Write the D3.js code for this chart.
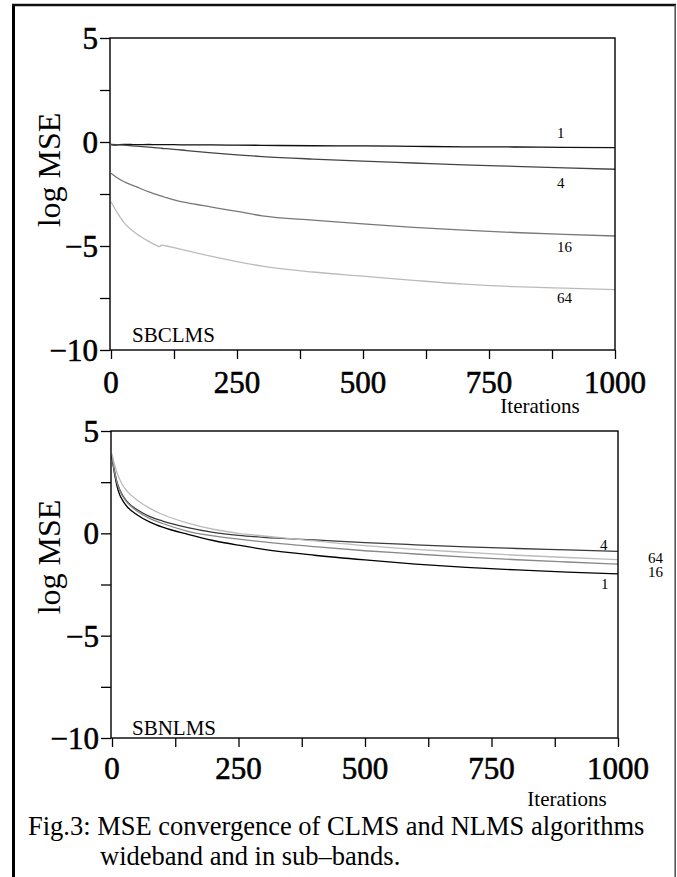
<!DOCTYPE html>
<html><head><meta charset="utf-8">
<script src="https://cdn.jsdelivr.net/npm/d3@7"></script>
<style>
body{margin:0;background:#fff}
svg{display:block}
svg text{font-family:"Liberation Serif","Times New Roman",Times,serif !important;}
</style>
</head><body><svg id="c" width="677" height="877"></svg>
<script>
// ---- data ----
const iterTicks = [0,125,250,375,500,625,750,875,1000];
const iterLabels = [0,250,500,750,1000];
const mseTicks = [5,2.5,0,-2.5,-5,-7.5,-10];
const mseLabels = [5,0,-5,-10];

const clmsIter = [0,10,25,50,75,90,97,100,110,125,150,200,250,300,400,500,600,700,800,900,1000];
const clms1  = [-0.12,-0.15,-0.11,-0.13,-0.12,-0.13,-0.13,-0.13,-0.13,-0.13,-0.14,-0.14,-0.15,-0.16,-0.18,-0.19,-0.21,-0.23,-0.24,-0.26,-0.27];
const clms4  = [-0.12,-0.13,-0.15,-0.2,-0.25,-0.28,-0.29,-0.3,-0.32,-0.35,-0.41,-0.52,-0.62,-0.7,-0.82,-0.92,-1.01,-1.1,-1.17,-1.24,-1.31];
const clms16 = [-1.5,-1.68,-1.9,-2.15,-2.4,-2.52,-2.58,-2.6,-2.68,-2.78,-2.92,-3.13,-3.34,-3.55,-3.76,-3.94,-4.1,-4.24,-4.35,-4.44,-4.52];
const clms64 = [-2.87,-3.3,-3.85,-4.4,-4.78,-4.97,-5.03,-4.96,-5.0,-5.08,-5.22,-5.5,-5.75,-5.97,-6.25,-6.45,-6.65,-6.83,-6.95,-7.03,-7.1];

const nlmsIter = [0,5,10,15,20,30,50,75,100,150,200,250,300,400,500,600,700,800,900,1000];
const nlms1  = [3.75,2.9,2.3,1.9,1.65,1.3,0.9,0.55,0.3,-0.05,-0.35,-0.58,-0.78,-1.07,-1.3,-1.5,-1.66,-1.79,-1.9,-1.98];
const nlms4  = [3.8,3.05,2.5,2.15,1.9,1.55,1.15,0.82,0.6,0.28,0.05,-0.1,-0.2,-0.32,-0.45,-0.56,-0.66,-0.74,-0.81,-0.88];
const nlms16 = [3.8,3.0,2.45,2.1,1.85,1.5,1.08,0.72,0.48,0.1,-0.12,-0.28,-0.42,-0.65,-0.85,-1.01,-1.16,-1.29,-1.4,-1.5];
const nlms64 = [3.9,3.35,2.95,2.65,2.4,2.05,1.62,1.22,0.92,0.5,0.2,0.0,-0.13,-0.37,-0.6,-0.78,-0.93,-1.07,-1.18,-1.28];

const seriesNames = ["1","4","16","64"];
const panelTitles = ["SBCLMS","SBNLMS"];
const yTitle = "log MSE";
const xTitle = "Iterations";
const caption1 = "Fig.3: MSE convergence of CLMS and NLMS algorithms";
const caption2 = "wideband and in sub\u2013bands.";

// ---- drawing ----
const svg = d3.select("#c");

// outer frame
svg.append("line").attr("x1",13.5).attr("x2",13.5).attr("y1",4).attr("y2",877).attr("stroke","#000").attr("stroke-width",3);
svg.append("line").attr("x1",12).attr("x2",676).attr("y1",5).attr("y2",5).attr("stroke","#111").attr("stroke-width",2.6);
svg.append("line").attr("x1",675.2).attr("x2",675.2).attr("y1",5).attr("y2",877).attr("stroke","#555").attr("stroke-width",1.6);

const panels = [
  {x0:110, x1:615, y0:38, y1:350, iter:clmsIter, series:[clms1,clms4,clms16,clms64],
   colors:["#111","#444","#777","#bbb"], title:panelTitles[0], titleY:342,
   xlabY:393, xTitleX:540, xTitleY:413, yTitleY:170,
   labels:[{dx:-58,dy:-10},{dx:-58,dy:19},{dx:-58,dy:16},{dx:-58,dy:13}], labelSize:15},
  {x0:111, x1:618, y0:431, y1:738, iter:nlmsIter, series:[nlms1,nlms4,nlms16,nlms64],
   colors:["#000","#3a3a3a","#888","#bbb"], title:panelTitles[1], titleY:735,
   xlabY:779, xTitleX:567, xTitleY:806, yTitleY:557,
   labels:[{dx:-17,dy:15},{dx:-18,dy:-1},{dx:30,dy:13},{dx:30,dy:3}], labelSize:15}
];

panels.forEach(p => {
  const x = d3.scaleLinear().domain([0,1000]).range([p.x0+1, p.x1]);
  const y = d3.scaleLinear().domain([-10,5]).range([p.y1, p.y0]);
  const g = svg.append("g");

  // curves
  const line = d3.line().x(d=>x(d[0])).y(d=>y(d[1])).curve(d3.curveMonotoneX);
  p.series.forEach((s,i) => {
    g.append("path").datum(p.iter.map((it,k)=>[it,s[k]]))
      .attr("d", line).attr("fill","none").attr("stroke",p.colors[i]).attr("stroke-width",1.3);
  });

  // frame
  g.append("rect").attr("x",p.x0).attr("y",p.y0).attr("width",p.x1-p.x0).attr("height",p.y1-p.y0)
    .attr("fill","none").attr("stroke","#000").attr("stroke-width",1.4);

  // y axis
  const ya = g.append("g").attr("transform",`translate(${p.x0},0)`)
    .call(d3.axisLeft(y).tickValues(mseTicks).tickSize(10).tickPadding(2)
      .tickFormat(d => mseLabels.includes(d) ? (d<0 ? "\u2212"+Math.abs(d) : String(d)) : ""));
  ya.attr("font-family",null);
  ya.select(".domain").remove();
  ya.selectAll(".tick line").attr("stroke","#000").attr("stroke-width",1.3);
  ya.selectAll(".tick text").attr("font-size",31).attr("fill","#000")
    .attr("stroke","#000").attr("stroke-width",0.6).attr("dy","0.34em");

  // x axis
  const xa = g.append("g").attr("transform",`translate(0,${p.y1})`)
    .call(d3.axisBottom(x).tickValues(iterTicks).tickSize(9).tickFormat(""));
  xa.select(".domain").remove();
  xa.selectAll(".tick line").attr("stroke","#000").attr("stroke-width",1.3);
  g.selectAll(".xl").data(iterLabels).join("text")
    .attr("x", d=>x(d)).attr("y", p.xlabY).attr("text-anchor","middle")
    .attr("font-size",31).attr("fill","#000")
    .attr("stroke","#000").attr("stroke-width",0.6).text(d=>d);

  // titles
  g.append("text").attr("x",132).attr("y",p.titleY).attr("font-size",21).text(p.title);
  g.append("text").attr("x",p.xTitleX).attr("y",p.xTitleY).attr("text-anchor","middle")
    .attr("font-size",21).text(xTitle);
  g.append("text").attr("transform",`translate(60,${p.yTitleY}) rotate(-90)`).attr("text-anchor","middle")
    .attr("font-size",32).text(yTitle);

  // curve labels
  p.series.forEach((s,i) => {
    const L = p.labels[i];
    g.append("text").attr("x", x(1000)+L.dx).attr("y", y(s[s.length-1])+L.dy)
      .attr("font-size",p.labelSize).text(seriesNames[i]);
  });
});

// caption
svg.append("text").attr("x",28).attr("y",835).attr("font-size",26.5).text(caption1);
svg.append("text").attr("x",100).attr("y",865).attr("font-size",26.5).text(caption2);
</script></body></html>
